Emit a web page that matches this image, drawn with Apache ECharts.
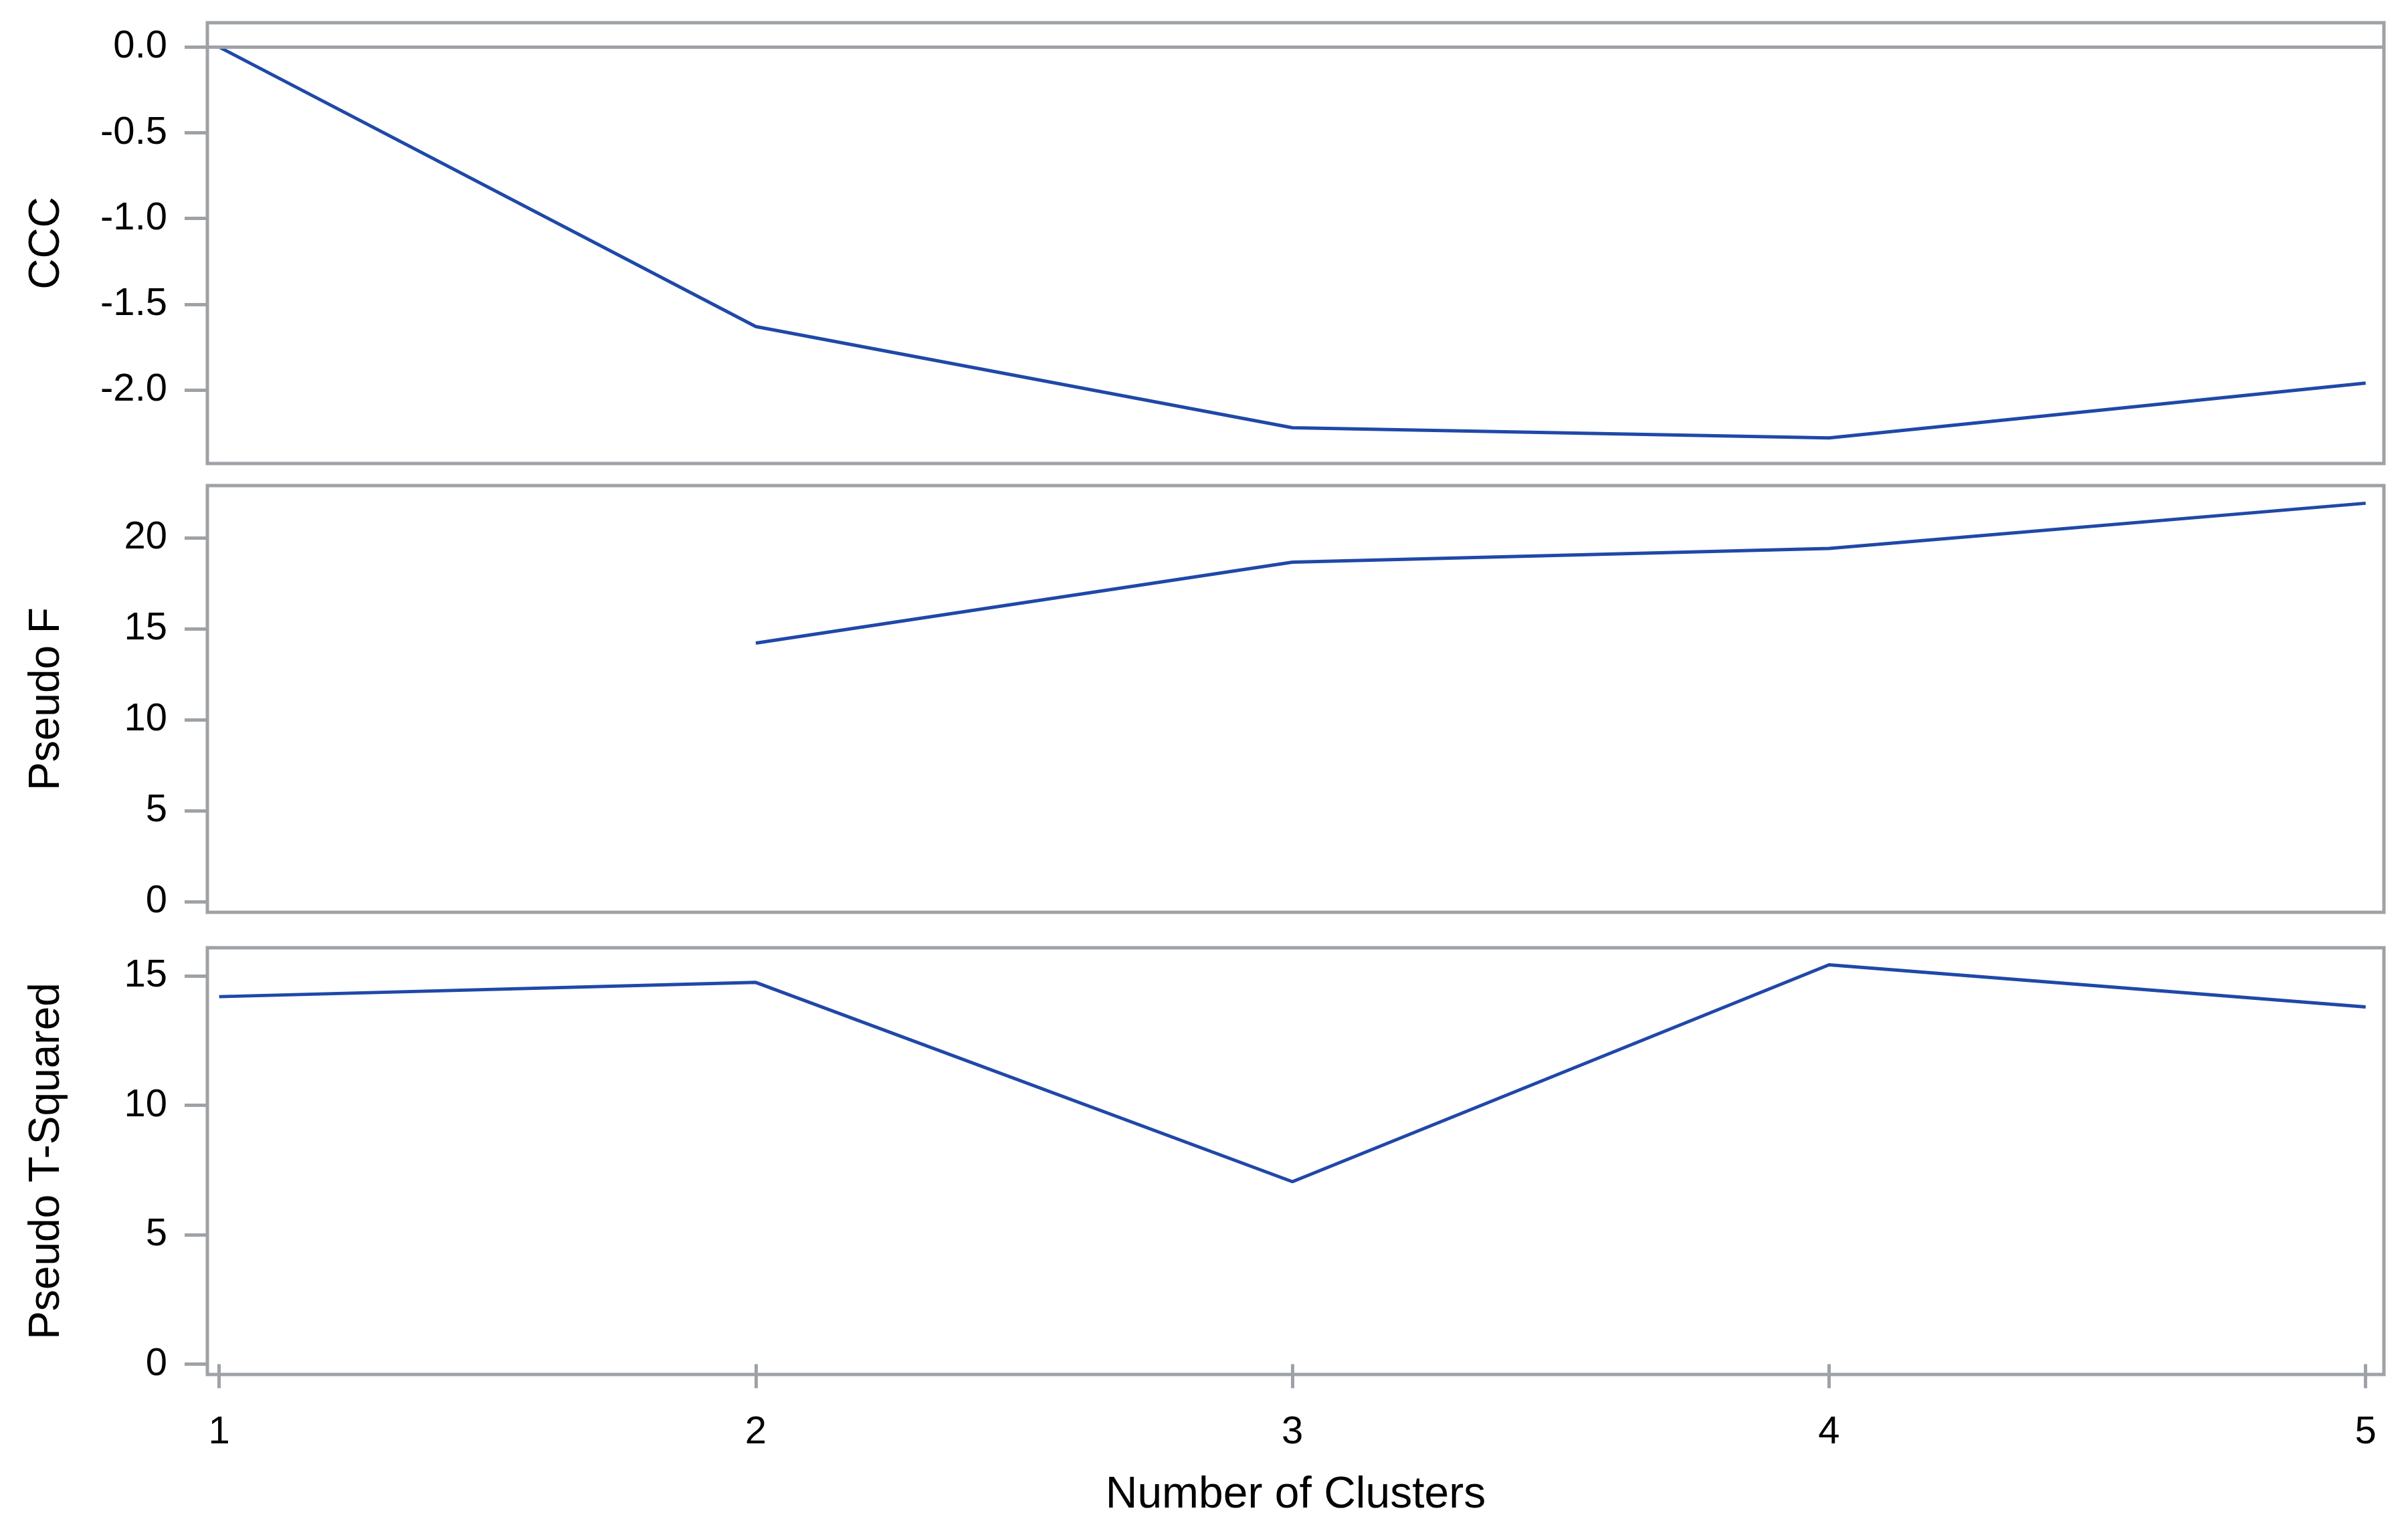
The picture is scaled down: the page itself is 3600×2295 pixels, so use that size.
<!DOCTYPE html>
<html>
<head>
<meta charset="utf-8">
<script src="https://cdn.jsdelivr.net/npm/echarts@6/dist/echarts.min.js"></script>
<style>
  html, body { margin: 0; padding: 0; background: #fff; }
  #chart { width: 3600px; height: 2295px; }
</style>
</head>
<body>
<div id="chart"></div>
<script>
// number of clusters on the shared x axis
const clusters = [1, 2, 3, 4, 5]

// values
const cccValues = [0.0, -1.63, -2.22, -2.28, -1.96]
const pseudoFValues = [null, 14.21, 18.66, 19.41, 21.9]
const pseudoTSqValues = [14.2, 14.75, 7.05, 15.43, 13.8]

// tick labels per panel
const cccTicks = [0, -0.5, -1.0, -1.5, -2.0]
const pseudoFTicks = [0, 5, 10, 15, 20]
const pseudoTSqTicks = [0, 5, 10, 15]

const FONT = "'Liberation Sans', Arial, sans-serif"
const GRAY = '#9ea2a6'
const LINE = '#1f48a8'

const pairs = vals => clusters.map((c, i) => [c, vals[i]])

const grids = [
  { left: 310, right: 36, top: 34, height: 659 },
  { left: 310, right: 36, top: 726, height: 638 },
  { left: 310, right: 36, top: 1417, height: 638 }
].map(g => Object.assign(g, {
  show: true,
  borderColor: GRAY,
  borderWidth: 5,
  backgroundColor: 'transparent'
}))

const xAxisBase = idx => ({
  type: 'value',
  gridIndex: idx,
  min: 0.978,
  max: 5.034,
  splitLine: { show: false },
  axisLine: { show: false },
  axisTick: { show: false },
  axisLabel: { show: false }
})

const yAxisBase = (idx, min, max, ticks, name, fmt) => ({
  type: 'value',
  gridIndex: idx,
  min: min,
  max: max,
  name: name,
  nameLocation: 'middle',
  nameGap: 208,
  nameTextStyle: { fontFamily: FONT, fontSize: 64, color: '#000' },
  splitLine: { show: false },
  axisLine: { show: false },
  axisTick: {
    show: true,
    customValues: ticks,
    length: 34,
    lineStyle: { color: GRAY, width: 5 }
  },
  axisLabel: {
    customValues: ticks,
    margin: 60,
    fontFamily: FONT,
    fontSize: 58,
    color: '#000',
    formatter: fmt
  }
})

const xBottom = Object.assign(xAxisBase(2), {
  name: 'Number of Clusters',
  nameLocation: 'middle',
  nameGap: 148,
  nameTextStyle: { fontFamily: FONT, fontSize: 66, color: '#000' },
  axisTick: {
    show: true,
    customValues: clusters,
    length: 36,
    lineStyle: { color: GRAY, width: 5 }
  },
  axisLabel: {
    show: true,
    customValues: clusters,
    margin: 58,
    fontFamily: FONT,
    fontSize: 58,
    color: '#000'
  }
})

const lineSeries = (idx, vals) => ({
  type: 'line',
  xAxisIndex: idx,
  yAxisIndex: idx,
  data: pairs(vals),
  showSymbol: false,
  connectNulls: false,
  lineStyle: { color: LINE, width: 5 },
  itemStyle: { color: LINE }
})

const chart = echarts.init(document.getElementById('chart'))

const cccSeries = lineSeries(0, cccValues)
cccSeries.markLine = {
  silent: true,
  symbol: 'none',
  label: { show: false },
  lineStyle: { color: GRAY, width: 5, type: 'solid' },
  data: [{ yAxis: 0 }]
}

chart.setOption({
  animation: false,
  backgroundColor: '#fff',
  grid: grids,
  xAxis: [xAxisBase(0), xAxisBase(1), xBottom],
  yAxis: [
    yAxisBase(0, -2.429, 0.142, cccTicks, 'CCC', v => v.toFixed(1)),
    yAxisBase(1, -0.59, 22.87, pseudoFTicks, 'Pseudo F', v => String(v)),
    yAxisBase(2, -0.40, 16.09, pseudoTSqTicks, 'Pseudo T-Squared', v => String(v))
  ],
  series: [
    cccSeries,
    lineSeries(1, pseudoFValues),
    lineSeries(2, pseudoTSqValues)
  ]
})
</script>
</body>
</html>
